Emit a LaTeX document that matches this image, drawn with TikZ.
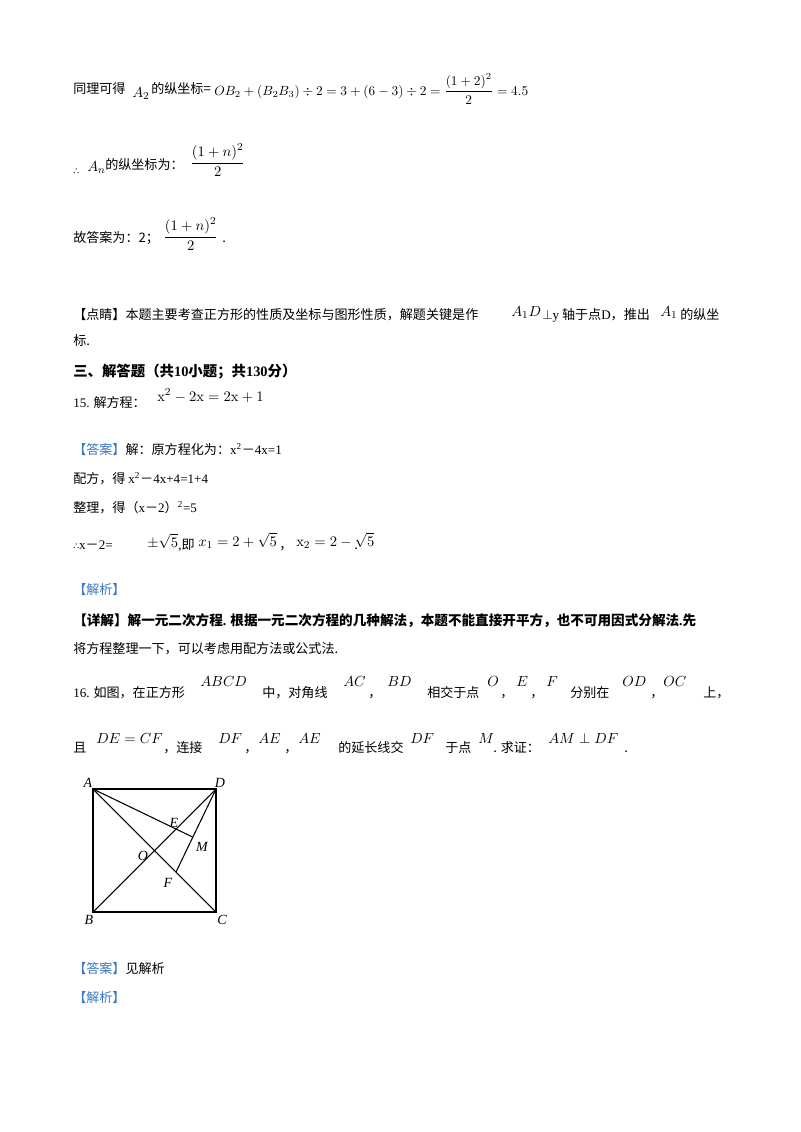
\documentclass[tikz,border=0pt]{standalone}
\usepackage[no-math]{fontspec}
\usepackage{amsmath}
\setmainfont{Noto Sans CJK SC}
\newfontfamily\lat{Liberation Serif}
\newfontfamily\dv{DejaVu Sans}
\definecolor{hdblue}{HTML}{3A77C4}
\usetikzlibrary{calc}
\begin{document}
\begin{tikzpicture}[x=0.75pt,y=-0.75pt,
  t/.style={anchor=base west,inner sep=0,font=\fontsize{9.8}{12}\selectfont},
  m/.style={anchor=base west,inner sep=0,font=\fontsize{11}{13}\selectfont},
  lb/.style={inner sep=0,font=\fontsize{10.5}{12}\selectfont\itshape\lat},
  ln/.style={line width=0.8pt}]
\useasboundingbox[fill=white] (0,0) rectangle (800,1132);
% line 1
\node[t] (l1a) at (73,93) {同理可得};
\node[m] (l1b) at (132,97) {$A_2$};
\node[t] (l1c) at (151,93) {的纵坐标=};
\node[m,font=\fontsize{10.2}{12}\selectfont] (l1d) at (214,95) {$OB_2+\left(B_2B_3\right)\div 2=3+\left(6-3\right)\div 2=\dfrac{\left(1+2\right)^2}{2}=4.5$};
% line 2
\node[t] (l2a) at (73,174) {{\dv\fontsize{7}{8}\selectfont ∴}};
\node[m] (l2b) at (87,171) {$A_n$};
\node[t] (l2c) at (105,169) {的纵坐标为：};
\node[m,anchor=west] (l2d) at (190,160) {$\dfrac{\left(1+n\right)^2}{2}$};
% line 3
\node[t] (l3a) at (73,242) {故答案为：2；};
\node[m,anchor=west] (l3b) at (163,234) {$\dfrac{\left(1+n\right)^2}{2}$};
\node[t] (l3c) at (222,242) {.};
% dianjing
\node[t] (l4a) at (73,319) {【点睛】本题主要考查正方形的性质及坐标与图形性质，解题关键是作};
\node[m] (l4b) at (511,316) {$A_1D$};
\node[t] (l4c) at (542,319) {$\perp${\lat y} 轴于点{\lat D}，推出};
\node[m] (l4d) at (660,316) {$A_1$};
\node[t] (l4e) at (680,319) {的纵坐};
\node[t] (l4f) at (73,345) {标.};
% section
\node[t,font=\fontsize{10.8}{13}\selectfont\bfseries] (sec) at (73,376) {三、解答题（共{\lat 10}小题；共{\lat 130}分）};
% 15
\node[t] (q15) at (73,407) {{\lat 15.} 解方程：};
\node[m] (q15m) at (157,401) {$\mathrm{x}^2-2\mathrm{x}=2\mathrm{x}+1$};
\node[t] (a1) at (73,454) {{\color{hdblue}【答案】}解：原方程化为：{\lat x\textsuperscript{2}}－{\lat 4x=1}};
\node[t] (a2) at (73,483) {配方，得 {\lat x\textsuperscript{2}}－{\lat 4x+4=1+4}};
\node[t] (a3) at (73,512) {整理，得（{\lat x}－{\lat 2}）{\lat\textsuperscript{2}=5}};
\node[t] (a4) at (73,549) {{\dv\fontsize{7}{8}\selectfont ∴}{\lat x}－{\lat 2=}};
\node[m] (a5) at (147,547) {$\pm\sqrt{5}$};
\node[t] (a6) at (178,549) {{\lat ,}即};
\node[m] (a7) at (198,546) {$x_1=2+\sqrt{5}$};
\node[t] (a8) at (279,549) {，};
\node[m] (a9) at (296,546) {$\mathrm{x}_2=2-\sqrt{5}$};
\node[t] (a10) at (354,549) {.};
\node[t,text=hdblue] (jx1) at (73,594) {【解析】};
\node[t,font=\fontsize{10.2}{12}\selectfont\bfseries] (xj1) at (73,625) {【详解】解一元二次方程{\lat .} 根据一元二次方程的几种解法，本题不能直接开平方，也不可用因式分解法{\lat .}先};
\node[t] (xj2) at (73,653) {将方程整理一下，可以考虑用配方法或公式法.};
% 16
\node[t] (p1) at (73,697) {{\lat 16.} 如图，在正方形};
\node[m] (p2) at (200,686) {$ABCD$};
\node[t] (p3) at (262,697) {中，对角线};
\node[m] (p4) at (343,686) {$AC$};
\node[t] (p5) at (368,697) {，};
\node[m] (p6) at (387,686) {$BD$};
\node[t] (p7) at (427,697) {相交于点};
\node[m] (p8) at (487,686) {$O$};
\node[t] (p9) at (500,697) {，};
\node[m] (p10) at (516,686) {$E$};
\node[t] (p11) at (530,697) {，};
\node[m] (p12) at (546,686) {$F$};
\node[t] (p13) at (570,697) {分别在};
\node[m] (p14) at (622,686) {$OD$};
\node[t] (p15) at (650,697) {，};
\node[m] (p16) at (663,686) {$OC$};
\node[t] (p17) at (703,697) {上，};
\node[t] (q1) at (73,752) {且};
\node[m] (q2) at (96,743) {$DE=CF$};
\node[t] (q3) at (163,752) {，连接};
\node[m] (q4) at (218,743) {$DF$};
\node[t] (q5) at (244,752) {，};
\node[m] (q6) at (258,743) {$AE$};
\node[t] (q7) at (284,752) {，};
\node[m] (q8) at (298,743) {$AE$};
\node[t] (q9) at (338,752) {的延长线交};
\node[m] (q10) at (410,743) {$DF$};
\node[t] (q11) at (445,752) {于点};
\node[m] (q12) at (478,743) {$M$};
\node[t] (q13) at (493,752) {. 求证：};
\node[m] (q14) at (548,743) {$AM\perp DF$};
\node[t] (q15) at (624,752) {.};
% figure
\coordinate (A) at (93,789);
\coordinate (D) at (216,789);
\coordinate (B) at (93,912);
\coordinate (C) at (216,912);
\coordinate (O) at ($(A)!0.5!(C)$);
\coordinate (E) at ($(O)!0.35!(D)$);
\coordinate (F) at ($(O)!0.35!(C)$);
\coordinate (M) at (intersection of A--E and D--F);
\draw[ln] (A) -- (D) -- (C) -- (B) -- cycle;
\draw[ln] (A) -- (C);
\draw[ln] (B) -- (D);
\draw[ln] (A) -- (M);
\draw[ln] (D) -- (F);
\node[lb] (lA) at (88,783) {A};
\node[lb] (lD) at (220,783) {D};
\node[lb] (lB) at (89,920) {B};
\node[lb] (lC) at (222,920) {C};
\node[lb] (lO) at (143,856) {O};
\node[lb] (lE) at (174,823) {E};
\node[lb] (lF) at (168,883) {F};
\node[lb] (lM) at (202,847) {M};
\node[t,anchor=base west] (ans) at (73,973) {{\color{hdblue}【答案】}见解析};
\node[t,text=hdblue] (jx2) at (73,1002) {【解析】};
\end{tikzpicture}
\end{document}
